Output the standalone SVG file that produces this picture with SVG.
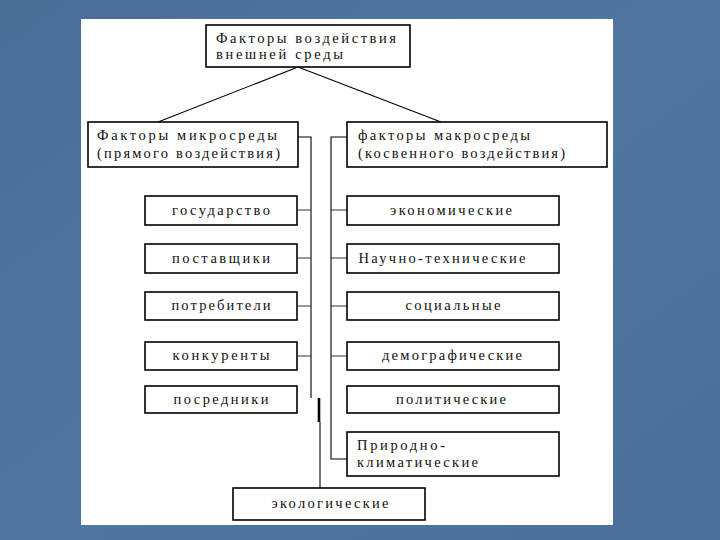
<svg xmlns="http://www.w3.org/2000/svg" width="720" height="540" viewBox="0 0 720 540">
<defs>
<linearGradient id="bg" x1="0" y1="0" x2="1" y2="1">
<stop offset="0" stop-color="#4a6d96"/>
<stop offset="0.5" stop-color="#5077a0"/>
<stop offset="1" stop-color="#4a6e97"/>
</linearGradient>
<style>
.box{fill:#fff;stroke:#000;stroke-width:1.6}
.t{font-family:"Liberation Serif","Times New Roman",serif;font-size:14.5px;fill:#111}
.c{text-anchor:middle}
.ln{stroke:#000;stroke-width:1.1;fill:none}
.st{stroke:#333;stroke-width:1;fill:none}
</style>
</defs>
<rect x="0" y="0" width="720" height="540" fill="url(#bg)"/>
<rect x="81" y="19" width="532" height="506" fill="#fff"/>

<g id="connectors">
<line class="ln" x1="298" y1="67" x2="158" y2="122"/>
<line class="ln" x1="298" y1="67" x2="441" y2="122"/>
<polyline class="ln" points="298,137 311,137 311,398"/>
<polyline class="ln" points="347,137 331,137 331,459 347,459"/>
<line class="st" x1="298" y1="210" x2="311" y2="210"/>
<line class="st" x1="298" y1="258" x2="311" y2="258"/>
<line class="st" x1="298" y1="306" x2="311" y2="306"/>
<line class="st" x1="298" y1="356" x2="311" y2="356"/>
<line class="st" x1="331" y1="210" x2="347" y2="210"/>
<line class="st" x1="331" y1="258" x2="347" y2="258"/>
<line class="st" x1="331" y1="306" x2="347" y2="306"/>
<line class="st" x1="331" y1="356" x2="347" y2="356"/>
<line stroke="#000" stroke-width="2.6" x1="319" y1="398" x2="319" y2="422"/>
<line class="ln" x1="320" y1="422" x2="320" y2="488"/>
</g>

<g id="n-top">
<rect class="box" x="206" y="25" width="204" height="42"/>
<text class="t" x="216" y="43" textLength="180" lengthAdjust="spacing">Факторы воздействия</text>
<text class="t" x="216" y="59" textLength="127" lengthAdjust="spacing">внешней среды</text>
</g>
<g id="n-micro">
<rect class="box" x="88" y="122" width="210" height="45"/>
<text class="t" x="97" y="140" textLength="180" lengthAdjust="spacing">Факторы микросреды</text>
<text class="t" x="97" y="158" textLength="183" lengthAdjust="spacing">(прямого воздействия)</text>
</g>
<g id="n-macro">
<rect class="box" x="347" y="122" width="260" height="45"/>
<text class="t" x="358" y="140" textLength="172" lengthAdjust="spacing">факторы макросреды</text>
<text class="t" x="358" y="158" textLength="207" lengthAdjust="spacing">(косвенного воздействия)</text>
</g>

<g id="n-gos"><rect class="box" x="145" y="196" width="152" height="29"/>
<text class="t c" x="221" y="215" textLength="98" lengthAdjust="spacing">государство</text></g>
<g id="n-post"><rect class="box" x="145" y="244" width="152" height="29"/>
<text class="t c" x="221" y="263" textLength="98" lengthAdjust="spacing">поставщики</text></g>
<g id="n-potr"><rect class="box" x="145" y="292" width="152" height="28"/>
<text class="t c" x="221" y="310" textLength="99" lengthAdjust="spacing">потребители</text></g>
<g id="n-konk"><rect class="box" x="145" y="342" width="152" height="28"/>
<text class="t c" x="221" y="360" textLength="97" lengthAdjust="spacing">конкуренты</text></g>
<g id="n-posr"><rect class="box" x="145" y="386" width="152" height="27"/>
<text class="t c" x="221" y="404" textLength="95" lengthAdjust="spacing">посредники</text></g>

<g id="n-ekon"><rect class="box" x="347" y="196" width="212" height="29"/>
<text class="t c" x="451" y="215" textLength="122" lengthAdjust="spacing">экономические</text></g>
<g id="n-nauch"><rect class="box" x="347" y="244" width="212" height="29"/>
<text class="t c" x="442" y="263" textLength="167" lengthAdjust="spacing">Научно-технические</text></g>
<g id="n-soc"><rect class="box" x="347" y="292" width="212" height="28"/>
<text class="t c" x="453" y="310" textLength="95" lengthAdjust="spacing">социальные</text></g>
<g id="n-dem"><rect class="box" x="347" y="342" width="212" height="28"/>
<text class="t c" x="452" y="360" textLength="140" lengthAdjust="spacing">демографические</text></g>
<g id="n-pol"><rect class="box" x="347" y="386" width="212" height="27"/>
<text class="t c" x="451" y="404" textLength="110" lengthAdjust="spacing">политические</text></g>
<g id="n-prir"><rect class="box" x="347" y="432" width="212" height="44"/>
<text class="t" x="357" y="450" textLength="88" lengthAdjust="spacing">Природно-</text>
<text class="t" x="357" y="467" textLength="121" lengthAdjust="spacing">климатические</text></g>

<g id="n-ekol"><rect class="box" x="233" y="488" width="192" height="32"/>
<text class="t c" x="330" y="508" textLength="117" lengthAdjust="spacing">экологические</text></g>
</svg>
